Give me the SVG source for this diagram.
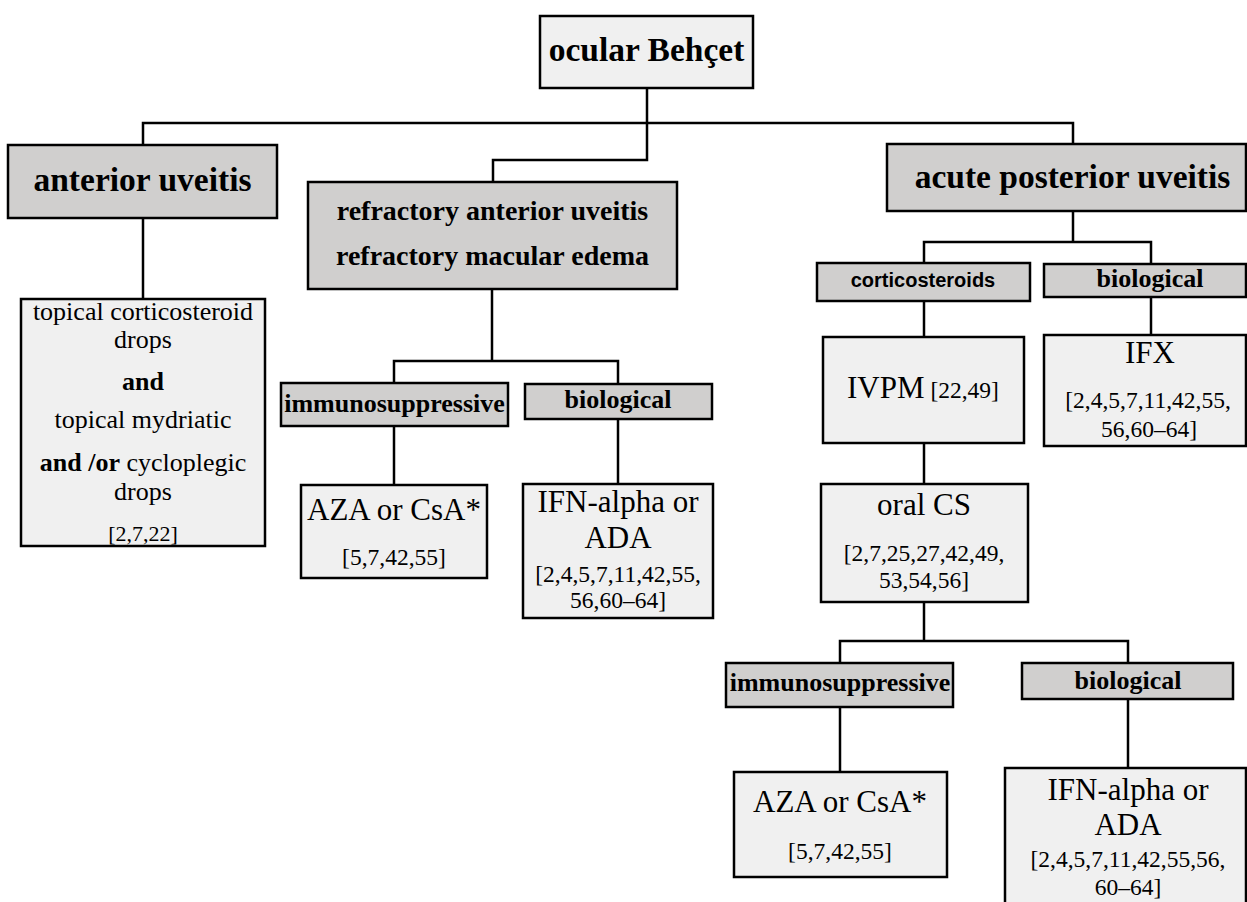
<svg xmlns="http://www.w3.org/2000/svg" width="1247" height="902" viewBox="0 0 1247 902">
<style>
.lt{fill:#f0f0f0;stroke:#000;stroke-width:2.5}
.dk{fill:#d0cfce;stroke:#000;stroke-width:2.5}
.c{fill:none;stroke:#000;stroke-width:2.5}
text{font-family:"Liberation Serif","Times New Roman",serif;fill:#000;text-anchor:middle}
.h1{font-size:33.5px;font-weight:bold}
.h2{font-size:28px;font-weight:bold}
.h3{font-size:26px;font-weight:bold}
.sans{font-family:"Liberation Sans",Arial,sans-serif;font-size:20px;font-weight:bold}
.m{font-size:31px}
.r{font-size:23.5px}
.a{font-size:26px}
.b{font-weight:bold}
</style>
<rect width="1247" height="902" fill="#fff"/>
<g id="connectors">
<path class="c" d="M647 88V160H493V182"/>
<path class="c" d="M143 145V123H1073V144"/>
<path class="c" d="M143 218V299"/>
<path class="c" d="M492 289V361"/>
<path class="c" d="M394 383V361H618V384"/>
<path class="c" d="M394 426V485"/>
<path class="c" d="M618 419V484"/>
<path class="c" d="M1073 211V242"/>
<path class="c" d="M924 263V242H1151V264"/>
<path class="c" d="M924 301V337"/>
<path class="c" d="M924 443V484"/>
<path class="c" d="M1151 297V335"/>
<path class="c" d="M924 602V641"/>
<path class="c" d="M840 663V641H1128V663"/>
<path class="c" d="M840 707V772"/>
<path class="c" d="M1128 699V768"/>
</g>
<g id="root">
<rect class="lt" x="540" y="16" width="213" height="72"/>
<text class="h1" x="646.5" y="61">ocular Behçet</text>
</g>
<g id="anterior">
<rect class="dk" x="8" y="145" width="269" height="73"/>
<text class="h1" x="142.5" y="191">anterior uveitis</text>
</g>
<g id="refractory">
<rect class="dk" x="308" y="182" width="369" height="107"/>
<text class="h2" x="492.5" y="220">refractory anterior uveitis</text>
<text class="h2" x="492.5" y="265">refractory macular edema</text>
</g>
<g id="acute">
<rect class="dk" x="887" y="144" width="359" height="67"/>
<text class="h1" x="1072.5" y="188">acute posterior uveitis</text>
</g>
<g id="topical">
<rect class="lt" x="21" y="299" width="244" height="247"/>
<text class="a" x="143" y="320">topical corticosteroid</text>
<text class="a" x="143" y="348">drops</text>
<text class="a b" x="143" y="390">and</text>
<text class="a" x="143" y="428">topical mydriatic</text>
<text class="a" x="143" y="471"><tspan class="b">and /or</tspan> cycloplegic</text>
<text class="a" x="143" y="500">drops</text>
<text x="143" y="541" style="font-size:22px">[2,7,22]</text>
</g>
<g id="immuno1">
<rect class="dk" x="281" y="383" width="227" height="43"/>
<text class="h3" x="394.5" y="412">immunosuppressive</text>
</g>
<g id="bio1">
<rect class="dk" x="525" y="384" width="187" height="35"/>
<text class="h3" x="618" y="408">biological</text>
</g>
<g id="aza1">
<rect class="lt" x="301" y="485" width="186" height="93"/>
<text class="m" x="394" y="520">AZA or CsA*</text>
<text class="r" x="394" y="565">[5,7,42,55]</text>
</g>
<g id="ifn1">
<rect class="lt" x="523" y="484" width="190" height="134"/>
<text class="m" x="618" y="512">IFN-alpha or</text>
<text class="m" x="618" y="548">ADA</text>
<text class="r" x="618" y="582">[2,4,5,7,11,42,55,</text>
<text class="r" x="618" y="608">56,60–64]</text>
</g>
<g id="cortico">
<rect class="dk" x="817" y="263" width="213" height="38"/>
<text class="sans" x="923" y="287">corticosteroids</text>
</g>
<g id="bio2">
<rect class="dk" x="1044" y="264" width="202" height="33"/>
<text class="h3" x="1150" y="287">biological</text>
</g>
<g id="ivpm">
<rect class="lt" x="823" y="337" width="201" height="106"/>
<text x="923" y="398"><tspan class="m">IVPM</tspan><tspan class="r"> [22,49]</tspan></text>
</g>
<g id="ifx">
<rect class="lt" x="1044" y="335" width="202" height="111"/>
<text class="m" x="1150" y="363">IFX</text>
<text class="r" x="1148" y="408">[2,4,5,7,11,42,55,</text>
<text class="r" x="1149" y="437">56,60–64]</text>
</g>
<g id="oralcs">
<rect class="lt" x="821" y="484" width="207" height="118"/>
<text class="m" x="924" y="515">oral CS</text>
<text class="r" x="924" y="561">[2,7,25,27,42,49,</text>
<text class="r" x="924" y="588">53,54,56]</text>
</g>
<g id="immuno2">
<rect class="dk" x="726" y="663" width="227" height="44"/>
<text class="h3" x="840" y="691">immunosuppressive</text>
</g>
<g id="bio3">
<rect class="dk" x="1022" y="663" width="211" height="36"/>
<text class="h3" x="1128" y="689">biological</text>
</g>
<g id="aza2">
<rect class="lt" x="734" y="772" width="213" height="105"/>
<text class="m" x="840" y="812">AZA or CsA*</text>
<text class="r" x="840" y="859">[5,7,42,55]</text>
</g>
<g id="ifn2">
<rect class="lt" x="1005" y="768" width="241" height="140"/>
<text class="m" x="1128" y="800">IFN-alpha or</text>
<text class="m" x="1128" y="835">ADA</text>
<text class="r" x="1128" y="867">[2,4,5,7,11,42,55,56,</text>
<text class="r" x="1128" y="895">60–64]</text>
</g>
</svg>
